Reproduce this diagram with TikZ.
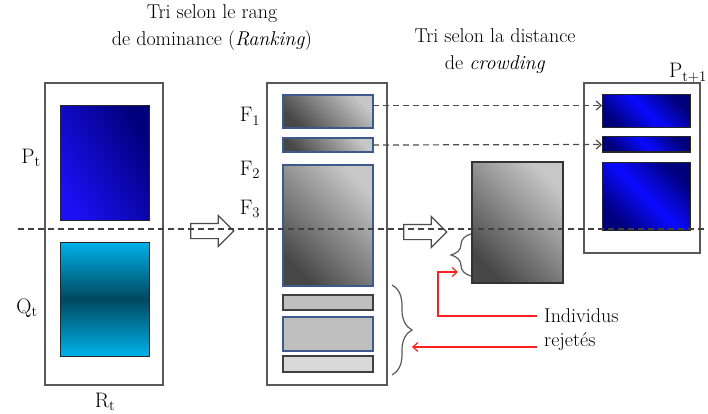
\documentclass[tikz,border=0pt]{standalone}
\usepackage{tikz}
\usetikzlibrary{shapes.arrows,decorations.pathreplacing,arrows.meta}
\definecolor{ptblue}{HTML}{1A10F2}
\definecolor{ptnavy}{HTML}{00007C}
\definecolor{qtcyan}{HTML}{00B2EA}
\definecolor{qtdark}{HTML}{00485F}
\definecolor{frameblue}{HTML}{3C5A8E}
\definecolor{nblue}{HTML}{0A0AFF}
\definecolor{ndark}{HTML}{00007A}
\definecolor{rejred}{HTML}{FF2020}

\begin{document}
\begin{tikzpicture}[x=1pt,y=-1pt,
  box/.style={inner sep=0pt, outer sep=0pt, anchor=north west},
  frame/.style={box, draw=black!65, line width=1.5pt, fill=white},
  popbox/.style={box, draw=black!85, line width=1pt},
  nextbox/.style={popbox, left color=ndark, right color=ndark,
    middle color=nblue, shading angle=135},
  frontbox/.style={box, draw=frameblue, line width=1.3pt,
    left color=black!72, right color=black!22, shading angle=135},
  lbl/.style={font=\fontsize{21}{24}\selectfont, inner sep=1pt},
  title/.style={font=\fontsize{20}{27}\selectfont, align=center},
  hollow/.style={single arrow, draw=black!70, line width=1.2pt, fill=white,
    minimum height=43pt, inner xsep=0pt, inner ysep=7pt,
    single arrow head extend=8pt},
  selarrow/.style={draw=black!70, line width=1.2pt, dash pattern=on 6pt off 4pt,
    -{Straight Barb[length=5pt,width=9pt]}},
  rejarrow/.style={draw=rejred, line width=1.2pt,
    -{Straight Barb[length=5pt,width=9pt]}},
  curly/.style={draw=black!65, line width=1.2pt,
    decorate, decoration={brace, amplitude=20pt}}
]
\useasboundingbox (0,0) rectangle (708,414);

% titres
\node[title] (tri1) at (212,28) {Tri selon le rang\\de dominance (\textit{Ranking})};
\node[title] (tri2) at (495,51) {Tri selon la distance\\de \textit{crowding}};

% R_t = P_t + Q_t
\node[frame, minimum width=118pt, minimum height=302pt] (Rt) at (45,83) {};
\node[popbox, minimum width=89pt, minimum height=114pt,
  left color=ptblue, right color=ptnavy, shading angle=120] (Pt) at (60,106) {};
\node[popbox, minimum width=89pt, minimum height=114pt,
  top color=qtcyan, bottom color=qtcyan, middle color=qtdark] (Qt) at (60,242) {};
\node[lbl, anchor=base] (Ptlab) at (31,163) {P\textsubscript{t}};
\node[lbl, anchor=base] (Qtlab) at (27,313) {Q\textsubscript{t}};
\node[lbl, anchor=base] (Rtlab) at (105,407) {R\textsubscript{t}};

\node[hollow] (arr1) at (208.5,231) {};

% fronts
\node[frame, minimum width=120pt, minimum height=302pt] (mid) at (267,83) {};
\node[frontbox, minimum width=90pt, minimum height=33pt] (F1) at (283,95) {};
\node[frontbox, minimum width=90pt, minimum height=14pt] (F2) at (283,138) {};
\node[frontbox, minimum width=90pt, minimum height=121pt] (F3) at (283,165) {};
\node[box, draw=black!75, line width=1.5pt, fill=black!25,
  minimum width=90pt, minimum height=15pt] (F4) at (283,295) {};
\node[box, draw=frameblue, line width=1.3pt, fill=black!25,
  minimum width=90pt, minimum height=34pt] (F5) at (283,317) {};
\node[box, draw=black!75, line width=1.5pt, fill=black!15,
  minimum width=90pt, minimum height=16pt] (F6) at (283,356) {};
\node[lbl, anchor=base] (F1lab) at (250,122) {F\textsubscript{1}};
\node[lbl, anchor=base] (F2lab) at (250,175) {F\textsubscript{2}};
\node[lbl, anchor=base] (F3lab) at (250,214) {F\textsubscript{3}};

\node[hollow] (arr2) at (421.5,232) {};

% dernier front trie
\node[box, draw=black!80, line width=1.3pt,
  left color=black!72, right color=black!22, shading angle=135,
  minimum width=91pt, minimum height=121pt] (crowd) at (472,162) {};

% P_{t+1}
\node[frame, minimum width=116pt, minimum height=170pt] (Pnext) at (584,83) {};
\node[nextbox, minimum width=88pt, minimum height=33pt] (N1) at (602,95) {};
\node[nextbox, minimum width=88pt, minimum height=15pt] (N2) at (602,137) {};
\node[nextbox, minimum width=88pt, minimum height=68pt] (N3) at (602,162) {};
\node[lbl, anchor=base] (Pnlab) at (688,78) {P\textsubscript{t+1}};

\draw[selarrow] ([yshift=6pt]F1.east) -- ([yshift=6pt]N1.west);
\draw[selarrow] (F2.east) -- (N2.west);

% rejetes
\draw[curly] (392,285) -- (392,375) coordinate[midway, xshift=20pt] (tip1);
\draw[curly] (471,276) -- (471,234);
\node[lbl, font=\fontsize{20}{24}\selectfont, anchor=base west] (indiv) at (543,322) {Individus};
\node[lbl, font=\fontsize{20}{24}\selectfont, anchor=base west] (rej) at (543,346) {rejet\'es};
\coordinate (rejA) at (537,316);
\coordinate (kink) at (438,272);
\coordinate (tip2) at (458,272);
\coordinate (rejB) at (537,347);
\draw[rejarrow] (rejA) -| (kink) -- (tip2);
\draw[rejarrow] (rejB) -- (rejB -| tip1);

\draw[black!75, line width=1.5pt, dash pattern=on 6pt off 4pt] (18,229) -- (708,229);
\end{tikzpicture}
\end{document}
